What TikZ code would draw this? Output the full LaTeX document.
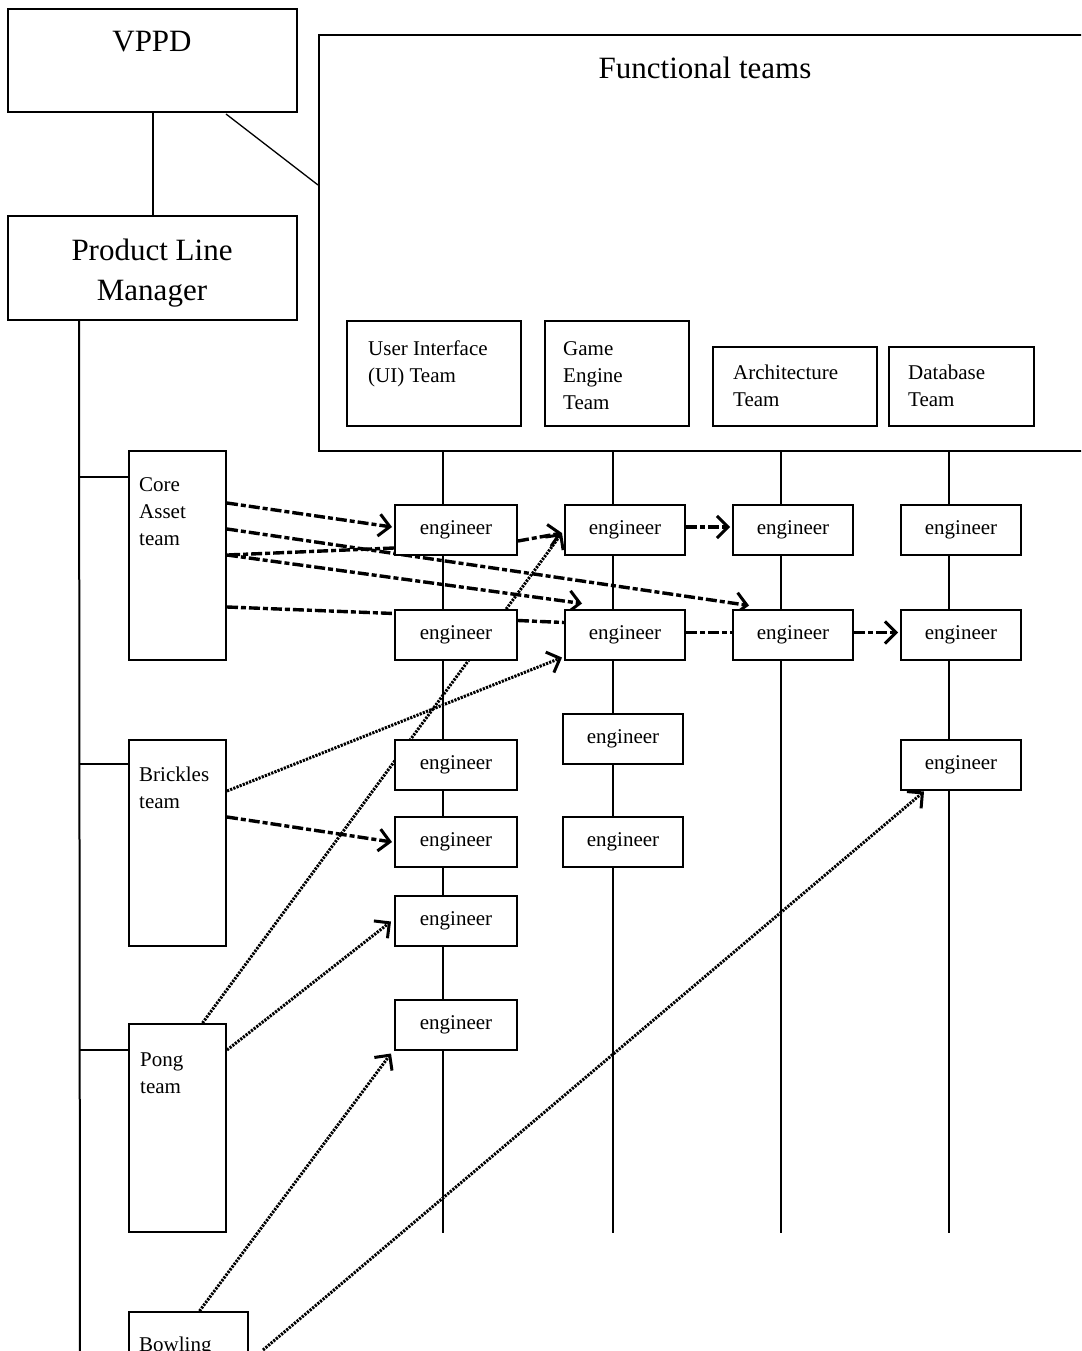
\documentclass[tikz,border=0pt]{standalone}
\usepackage{fontspec}
\setmainfont{Liberation Serif}
\usetikzlibrary{arrows.meta,calc}
\pgfdeclarelayer{bg}
\pgfsetlayers{bg,main}
\newcommand\bigf{\fontsize{31}{40}\selectfont}
\newcommand\smf{\fontsize{21}{27}\selectfont}
\newcommand\engf{\fontsize{21}{24}\selectfont}
\newcommand\bx[5]{\node[box,minimum width={(#4-#2)*1pt},minimum height={(#5-#3)*1pt}] (#1) at ({(#2+#4)/2},{(#3+#5)/2}) {};}
\tikzset{
  box/.style={draw, fill=white, line width=2pt, inner sep=0pt},
  eng/.style={draw, fill=white, line width=2pt, inner sep=0pt, minimum width=122pt, minimum height=50pt, font=\engf},
  engb/.style={eng, minimum width=120pt},
  lbl/.style={anchor=north west, align=left, inner sep=0pt, font=\smf},
  thin/.style={line width=2pt},
  dsh/.style={line width=3.4pt, dash pattern=on 11pt off 3pt on 5pt off 3pt},
  dot/.style={line width=3pt, dash pattern=on 2.2pt off 1.2pt},
  arr/.style={-{Straight Barb[length=11pt,width=22pt,line width=3pt]}},
}
\begin{document}
\begin{tikzpicture}[x=1pt,y=-1pt]
\clip (0,0) rectangle (1081,1351);
% top boxes
\bx{vppd}{8}{9}{297}{112}
\node[anchor=base, font=\bigf, inner sep=0pt] (vppdt) at (152,52) {VPPD};
\bx{plm}{8}{216}{297}{320}
\node[anchor=north, align=center, font=\bigf, inner sep=0pt] (plmt) at (152,239) {Product Line\\Manager};
\bx{ft}{319}{35}{1110}{451}
\node[anchor=base, font=\bigf, inner sep=0pt] (ftt) at (705,79) {Functional teams};
% team boxes
\bx{ui}{347}{321}{521}{426}
\node[lbl] (uit) at (368,341) {User Interface\\(UI) Team};
\bx{ge}{545}{321}{689}{426}
\node[lbl] (get) at (563,341) {Game\\Engine\\Team};
\bx{ar}{713}{347}{877}{426}
\node[lbl] (art) at (733,365) {Architecture\\Team};
\bx{db}{889}{347}{1034}{426}
\node[lbl] (dbt) at (908,365) {Database\\Team};
% product teams
\bx{core}{129}{451}{226}{660}
\node[lbl] (coret) at (139,477) {Core\\Asset\\team};
\bx{brick}{129}{740}{226}{946}
\node[lbl] (brickt) at (139,767) {Brickles\\team};
\bx{pong}{129}{1024}{226}{1232}
\node[lbl] (pongt) at (140,1053) {Pong\\team};
\bx{bowl}{129}{1312}{248}{1420}
\node[lbl] (bowlt) at (139,1337) {Bowling};
% engineers
\node[eng] (u1) at (456,530) {engineer};
\node[eng] (u2) at (456,634.5) {engineer};
\node[eng] (u3) at (456,764.5) {engineer};
\node[eng] (u4) at (456,842) {engineer};
\node[eng] (u5) at (456,920.5) {engineer};
\node[eng] (u6) at (456,1024.5) {engineer};
\node[engb] (g1) at (625,530) {engineer};
\node[engb] (g2) at (625,634.5) {engineer};
\node[engb] (g3) at (623,738.5) {engineer};
\node[engb] (g4) at (623,842) {engineer};
\node[engb] (a1) at (793,530) {engineer};
\node[engb] (a2) at (793,634.5) {engineer};
\node[engb] (d1) at (961,530) {engineer};
\node[engb] (d2) at (961,634.5) {engineer};
\node[engb] (d3) at (961,764.5) {engineer};
% coordinates for free ends
\coordinate (l1a) at (443,451); \coordinate (l1b) at (443,1233);
\coordinate (l2a) at (613,451); \coordinate (l2b) at (613,1233);
\coordinate (l3a) at (781,451); \coordinate (l3b) at (781,1233);
\coordinate (l4a) at (949,451); \coordinate (l4b) at (949,1233);
\coordinate (trunkbot) at (80,1360);
\begin{pgfonlayer}{bg}
\draw[thin] (vppd.south) -- (plm.north);
\draw[line width=1.3pt] ($(vppd.south east)+(-72,1)$) -- ($(ft.north west)+(0,151)$);
\draw[thin] ($(plm.south west)+(72,0)$) -- (trunkbot);
\draw[thin] ($(core.north west)+(-49,27)$) -- ($(core.north west)+(0,27)$);
\draw[thin] ($(brick.north west)+(-49,25)$) -- ($(brick.north west)+(0,25)$);
\draw[thin] ($(pong.north west)+(-49,27)$) -- ($(pong.north west)+(0,27)$);
\draw[thin] (l1a) -- (l1b);
\draw[thin] (l2a) -- (l2b);
\draw[thin] (l3a) -- (l3b);
\draw[thin] (l4a) -- (l4b);
% dashed connectors
\draw[dsh,arr] ($(core.north east)+(0,53)$) -- ($(u1.west)+(-2,-3)$);
\draw[dsh,arr] ($(core.north east)+(0,79)$) -- ($(a2.north west)+(17,-3)$);
\draw[dsh,arr] ($(core.north east)+(0,105)$) -- ($(g2.north west)+(18,-5)$);
\draw[dsh] ($(u1.south west)+(0,-8)$) -- ($(core.north east)+(0,105)$);
\draw[dsh] ($(core.north east)+(0,157)$) -- ($(u2.west)+(0,-21)$);
\draw[dsh] ($(u2.east)+(0,-14)$) -- ($(g2.west)+(0,-12)$);
\draw[dsh] ($(g2.east)+(0,-2)$) -- ($(a2.west)+(0,-2)$);
\draw[dsh,arr] ($(a2.east)+(0,-2)$) -- ($(d2.west)+(-2,-2)$);
\draw[dsh,arr] ($(u1.east)+(0,11)$) -- ($(g1.west)+(-2,3)$);
\draw[dsh,arr] ($(g1.east)+(0,-3)$) -- ($(a1.west)+(-2,-3)$);
\draw[dsh,arr] ($(brick.north east)+(0,78)$) -- ($(u4.west)+(-2,0)$);
% dotted connectors
\draw[dot,arr] ($(brick.north east)+(0,52)$) -- ($(g2.south west)+(-2,-3)$);
\draw[dot,arr] ($(pong.north)+(25,0)$) -- ($(g1.west)+(-2,3)$);
\draw[dot,arr] ($(pong.north east)+(0,27)$) -- ($(u5.west)+(-3,1)$);
\draw[dot,arr] ($(bowl.north)+(11,0)$) -- ($(u6.south west)+(-3,3)$);
\draw[dot,arr] ($(bowl.north east)+(14,39)$) -- ($(d3.south west)+(24,1)$);
\end{pgfonlayer}
\end{tikzpicture}
\end{document}
